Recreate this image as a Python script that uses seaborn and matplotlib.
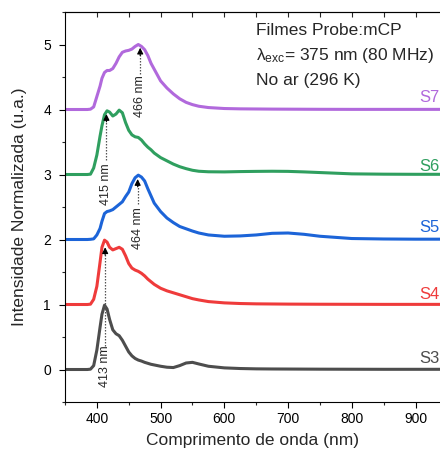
import numpy as np
import pandas as pd
import matplotlib
matplotlib.use("Agg")
import matplotlib.pyplot as plt
import seaborn as sns

# ---- data (normalized intensities) ----
wavelength = [350, 385, 390, 395, 400, 405, 408, 412, 416, 420, 425, 430, 435, 440, 445,
              450, 455, 460, 465, 470, 475, 480, 485, 490, 500, 510, 520, 530, 540, 550,
              560, 575, 600, 625, 650, 675, 700, 725, 750, 800, 850, 900, 940]

s3 = [0, 0, 0.005, 0.06, 0.30, 0.65, 0.85, 0.99, 0.93, 0.77, 0.61, 0.55, 0.52, 0.45, 0.36,
      0.27, 0.21, 0.17, 0.145, 0.13, 0.11, 0.095, 0.08, 0.07, 0.05, 0.035, 0.03, 0.06, 0.10, 0.11,
      0.085, 0.05, 0.025, 0.015, 0.01, 0.008, 0.007, 0.006, 0.005, 0.004, 0.003, 0.003, 0.003]
s4 = [0, 0, 0.005, 0.08, 0.28, 0.65, 0.88, 0.99, 0.96, 0.88, 0.84, 0.86, 0.88, 0.85, 0.75,
      0.63, 0.56, 0.53, 0.51, 0.48, 0.44, 0.39, 0.35, 0.31, 0.25, 0.21, 0.18, 0.15, 0.12, 0.09,
      0.07, 0.045, 0.025, 0.015, 0.01, 0.008, 0.006, 0.005, 0.004, 0.003, 0.002, 0.002, 0.002]
s5 = [0, 0, 0.003, 0.01, 0.07, 0.17, 0.28, 0.40, 0.43, 0.44, 0.46, 0.50, 0.54, 0.58, 0.66,
      0.73, 0.86, 0.95, 0.99, 0.96, 0.90, 0.78, 0.67, 0.56, 0.43, 0.33, 0.26, 0.20, 0.165, 0.13,
      0.10, 0.07, 0.05, 0.055, 0.07, 0.095, 0.10, 0.08, 0.05, 0.015, 0.008, 0.005, 0.005]
s6 = [0, 0, 0.005, 0.10, 0.30, 0.59, 0.75, 0.92, 0.98, 0.96, 0.90, 0.93, 0.99, 0.95, 0.80,
      0.68, 0.61, 0.58, 0.57, 0.53, 0.47, 0.42, 0.38, 0.33, 0.26, 0.21, 0.16, 0.12, 0.09, 0.065,
      0.05, 0.042, 0.04, 0.045, 0.048, 0.05, 0.048, 0.04, 0.03, 0.01, 0.005, 0.003, 0.003]
s7 = [0, 0, 0.005, 0.04, 0.20, 0.36, 0.48, 0.57, 0.60, 0.60, 0.63, 0.71, 0.81, 0.88, 0.90,
      0.91, 0.93, 0.97, 1.00, 0.97, 0.92, 0.83, 0.71, 0.62, 0.44, 0.33, 0.24, 0.165, 0.11, 0.075,
      0.05, 0.03, 0.015, 0.01, 0.008, 0.006, 0.005, 0.004, 0.003, 0.002, 0.002, 0.002, 0.002]

samples = ["S3", "S4", "S5", "S6", "S7"]
series = [s3, s4, s5, s6, s7]
offsets = [0, 1, 2, 3, 4]
colors = ["#4d4d4d", "#ef3b3b", "#1c64d8", "#2f9f5f", "#b169dc"]

# annotations: (label, x, text center y, arrow start y, arrow tip y)
peak_labels = ["413 nm", "415 nm", "464 nm", "466 nm"]
peak_x = [413, 415, 464, 468]
text_y = [0.05, 2.85, 2.18, 4.21]
arrow_from = [0.36, 3.22, 2.54, 4.54]
arrow_to = [1.88, 3.93, 2.93, 4.95]

label_y = [0.17, 1.16, 2.18, 3.13, 4.18]

info_lines = ["Filmes Probe:mCP", "λ$_{\\mathrm{exc}}$= 375 nm (80 MHz)", "No ar (296 K)"]
info_y = [5.14, 4.76, 4.38]

# ---- build long-form table ----
rows = []
for name, vals, off in zip(samples, series, offsets):
    for w, v in zip(wavelength, vals):
        rows.append({"wavelength": w, "intensity": v + off, "sample": name})
df = pd.DataFrame(rows)

sns.set_style("ticks")
plt.rcParams["font.family"] = ["Liberation Sans", "DejaVu Sans"]
plt.rcParams["mathtext.fontset"] = "custom"
plt.rcParams["mathtext.rm"] = "Liberation Sans"
plt.rcParams["mathtext.it"] = "Liberation Sans:italic"

fig = plt.figure(figsize=(4.40, 4.54), dpi=100)
ax = fig.add_axes([65 / 440, 1 - 402 / 454, 376 / 440, 390 / 454])

sns.lineplot(data=df, x="wavelength", y="intensity", hue="sample",
             palette=dict(zip(samples, colors)), estimator=None, lw=2.2,
             legend=False, ax=ax)

ax.set_xlim(350, 940)
ax.set_ylim(-0.5, 5.5)
ax.set_xticks([400, 500, 600, 700, 800, 900])
ax.set_xticks(np.arange(350, 941, 50), minor=True)
ax.set_yticks([0, 1, 2, 3, 4, 5])
ax.set_yticks(np.arange(-0.5, 5.6, 0.5), minor=True)
ax.tick_params(axis="both", which="major", direction="out", length=4, width=0.8,
               labelsize=10, colors="black")
ax.tick_params(axis="y", which="major", pad=6)
ax.tick_params(axis="both", which="minor", direction="out", length=2.2, width=0.8)
for side in ["left", "bottom", "top"]:
    ax.spines[side].set_visible(True)
    ax.spines[side].set_linewidth(0.8)
    ax.spines[side].set_color("black")
ax.spines["right"].set_visible(False)

sec = ax.secondary_xaxis("top")
sec.set_xticks(np.arange(400, 941, 50))
sec.tick_params(direction="in", length=3.5, width=0.8, labeltop=False)
sec.set_xticklabels([])

ax.set_xlabel("Comprimento de onda (nm)", fontsize=12.5, labelpad=5)
ax.set_ylabel("Intensidade Normalizada (u.a.)", fontsize=12.5, labelpad=12)

# arrows and peak labels
for lab, x, ty, a0, a1 in zip(peak_labels, peak_x, text_y, arrow_from, arrow_to):
    ax.plot([x, x], [a0, a1 - 0.08], color="#555555", ls=(0, (1.2, 1.2)), lw=0.9)
    ax.annotate("", xy=(x, a1), xytext=(x, a1 - 0.12),
                arrowprops=dict(arrowstyle="-|>", color="black", lw=0.8,
                                mutation_scale=9, shrinkA=0, shrinkB=0))
    ax.text(x, ty, lab, rotation=90, ha="center", va="center", fontsize=9)

# sample labels
for name, ly, c in zip(samples, label_y, colors):
    ax.text(938, ly, name, color=c, ha="right", va="center", fontsize=12)

for line, y in zip(info_lines, info_y):
    ax.text(650, y, line, ha="left", va="baseline", fontsize=12.5)

fig.savefig("out.png", dpi=100)
